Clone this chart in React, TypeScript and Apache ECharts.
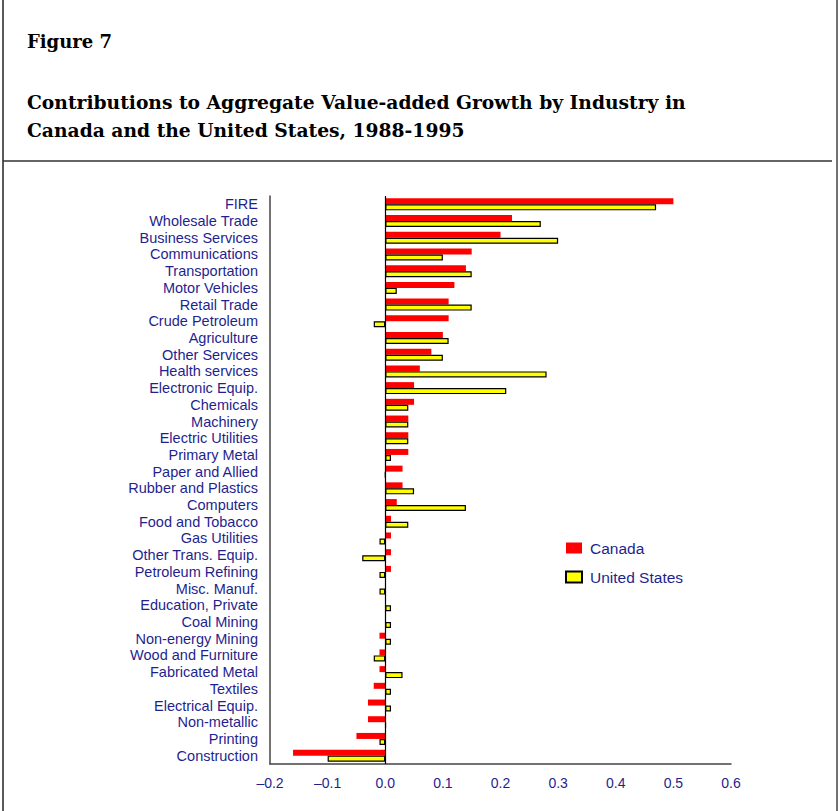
import React, { useEffect, useRef } from "react";
import * as echarts from "echarts";

const categories = [
  "FIRE", "Wholesale Trade", "Business Services", "Communications", "Transportation",
  "Motor Vehicles", "Retail Trade", "Crude Petroleum", "Agriculture", "Other Services",
  "Health services", "Electronic Equip.", "Chemicals", "Machinery", "Electric Utilities",
  "Primary Metal", "Paper and Allied", "Rubber and Plastics", "Computers", "Food and Tobacco",
  "Gas Utilities", "Other Trans. Equip.", "Petroleum Refining", "Misc. Manuf.", "Education, Private",
  "Coal Mining", "Non-energy Mining", "Wood and Furniture", "Fabricated Metal", "Textiles",
  "Electrical Equip.", "Non-metallic", "Printing", "Construction",
];

const canada = [
  0.50, 0.22, 0.20, 0.15, 0.14,
  0.12, 0.11, 0.11, 0.10, 0.08,
  0.06, 0.05, 0.05, 0.04, 0.04,
  0.04, 0.03, 0.03, 0.02, 0.01,
  0.01, 0.01, 0.01, 0.001, 0.001,
  0.001, -0.01, -0.01, -0.01, -0.02,
  -0.03, -0.03, -0.05, -0.16,
];

const unitedStates = [
  0.47, 0.27, 0.30, 0.10, 0.15,
  0.02, 0.15, -0.02, 0.11, 0.10,
  0.28, 0.21, 0.04, 0.04, 0.04,
  0.01, 0, 0.05, 0.14, 0.04,
  -0.01, -0.04, -0.01, -0.01, 0.01,
  0.01, 0.01, -0.02, 0.03, 0.01,
  0.01, 0.001, -0.01, -0.10,
];

const xTicks = { min: -0.2, max: 0.6, interval: 0.1 };

const NAVY = "#1f1f8f";
const SANS = "'Liberation Sans', Arial, sans-serif";

export default function App() {
  const ref = useRef<HTMLDivElement>(null);
  useEffect(() => {
    if (!ref.current) return;
    const chart = echarts.init(ref.current, null, { renderer: "svg" });
    chart.setOption({
      animation: false,
      backgroundColor: "#ffffff",
      grid: { left: 270, right: 108, top: 196, bottom: 47, containLabel: false },
      xAxis: {
        type: "value",
        min: xTicks.min,
        max: xTicks.max,
        interval: xTicks.interval,
        axisLine: { show: true, onZero: false, lineStyle: { color: "#444", width: 1.5 } },
        axisTick: { show: false },
        splitLine: { show: false },
        axisLabel: {
          color: NAVY,
          fontFamily: SANS,
          fontSize: 14,
          margin: 12,
          formatter: (v: number) => (v < 0 ? "\u2013" + Math.abs(v).toFixed(1) : v.toFixed(1)),
        },
      },
      yAxis: {
        type: "category",
        inverse: true,
        data: categories,
        axisLine: { show: true, onZero: false, lineStyle: { color: "#444", width: 1.5 } },
        axisTick: { show: false },
        axisLabel: {
          interval: 0,
          color: NAVY,
          fontFamily: SANS,
          fontSize: 14.5,
          margin: 12,
        },
      },
      legend: {
        orient: "vertical",
        left: 560,
        top: 535,
        itemWidth: 16,
        itemHeight: 11,
        itemGap: 13,
        icon: "rect",
        textStyle: { color: NAVY, fontSize: 15.5, fontFamily: SANS, padding: [0, 0, 0, 3] },
        data: ["Canada", "United States"],
      },
      series: [
        {
          name: "Canada",
          type: "bar",
          data: canada,
          barWidth: 6,
          barGap: "0%",
          itemStyle: { color: "#ff0000" },
          markLine: {
            silent: true,
            symbol: "none",
            label: { show: false },
            lineStyle: { color: "#000", width: 1.2, type: "solid" },
            data: [{ xAxis: 0 }],
          },
        },
        {
          name: "United States",
          type: "bar",
          data: unitedStates,
          barWidth: 6,
          itemStyle: { color: "#ffff00", borderColor: "#000", borderWidth: 1.2 },
        },
      ],
      graphic: [
        { type: "line", shape: { x1: 3, y1: 0, x2: 3, y2: 811 }, style: { stroke: "#222", lineWidth: 1.5 } },
        { type: "line", shape: { x1: 837, y1: 0, x2: 837, y2: 811 }, style: { stroke: "#444", lineWidth: 1.5 } },
        { type: "line", shape: { x1: 3, y1: 161, x2: 832, y2: 161 }, style: { stroke: "#333", lineWidth: 1.5 } },
        {
          type: "text", left: 27, top: 32,
          style: { text: "Figure 7", fill: "#000", font: "bold 18px 'DejaVu Serif', serif" },
        },
        {
          type: "text", left: 27, top: 88,
          style: {
            text: "Contributions to Aggregate Value-added Growth by Industry in\nCanada and the United States, 1988-1995",
            fill: "#000",
            font: "bold 18.7px 'DejaVu Serif', serif",
            lineHeight: 28,
          },
        },
      ],
    });
    return () => chart.dispose();
  }, []);
  return <div ref={ref} style={{ position: "absolute", left: 0, top: 0, width: 839, height: 811 }} />;
}
